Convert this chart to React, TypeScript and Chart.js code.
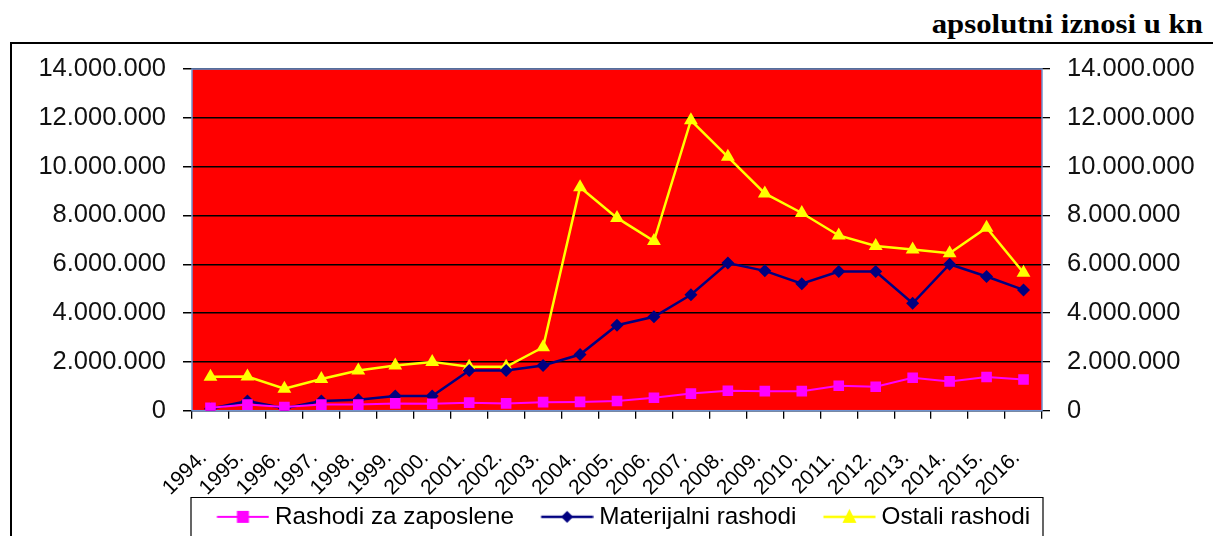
import React, { useEffect, useRef } from 'react';
import { Chart, registerables } from 'chart.js';

Chart.register(...registerables);

// ---------- data ----------
const years = [
  '1994.', '1995.', '1996.', '1997.', '1998.', '1999.', '2000.', '2001.',
  '2002.', '2003.', '2004.', '2005.', '2006.', '2007.', '2008.', '2009.',
  '2010.', '2011.', '2012.', '2013.', '2014.', '2015.', '2016.',
];

const rashodiZaZaposlene = [
  120000, 250000, 150000, 250000, 250000, 300000, 280000, 330000,
  300000, 350000, 360000, 400000, 530000, 700000, 820000, 800000,
  800000, 1020000, 980000, 1350000, 1200000, 1380000, 1280000,
];

const materijalniRashodi = [
  80000, 400000, 100000, 400000, 450000, 600000, 600000, 1650000,
  1650000, 1850000, 2300000, 3500000, 3850000, 4750000, 6050000, 5730000,
  5200000, 5700000, 5700000, 4400000, 6000000, 5500000, 4950000,
];

const ostaliRashodi = [
  1390000, 1400000, 900000, 1300000, 1650000, 1850000, 2000000, 1800000,
  1800000, 2600000, 9150000, 7900000, 6950000, 11900000, 10400000, 8900000,
  8100000, 7180000, 6750000, 6600000, 6450000, 7500000, 5650000,
];

const seriesNames = ['Rashodi za zaposlene', 'Materijalni rashodi', 'Ostali rashodi'];
const yTickValues = [0, 2000000, 4000000, 6000000, 8000000, 10000000, 12000000, 14000000];
const unitLabel = 'apsolutni iznosi u kn';

// ---------- helpers ----------
const fmt = (v: number) => String(Math.round(v)).replace(/\B(?=(\d{3})+(?!\d))/g, '.');

const FONT = "'Liberation Sans', Arial, sans-serif";

// legend symbol: image 80px wide, centred on a 67px legend box; line spans image px 27.5..79.5
function legendSymbol(color: string, marker: 'rect' | 'diamond' | 'triangle', lw: number) {
  const c = document.createElement('canvas');
  c.width = 80;
  c.height = 20;
  const g = c.getContext('2d')!;
  g.strokeStyle = color;
  g.lineWidth = lw;
  g.beginPath();
  g.moveTo(27.5, 10);
  g.lineTo(79.5, 10);
  g.stroke();
  g.fillStyle = color;
  g.beginPath();
  const cx = 53.5;
  if (marker === 'rect') {
    g.rect(cx - 6, 10 - 6, 12, 12);
  } else if (marker === 'diamond') {
    g.moveTo(cx, 4);
    g.lineTo(cx + 6, 10);
    g.lineTo(cx, 16);
    g.lineTo(cx - 6, 10);
    g.closePath();
  } else {
    g.moveTo(cx, 2);
    g.lineTo(cx + 7, 16);
    g.lineTo(cx - 7, 16);
    g.closePath();
  }
  g.fill();
  return c;
}

const plotDecor = {
  id: 'plotDecor',
  beforeDraw(chart: any) {
    const { ctx, chartArea: a } = chart;
    ctx.save();
    ctx.fillStyle = '#FF0000';
    ctx.fillRect(a.left, a.top, a.right - a.left, a.bottom - a.top);
    ctx.restore();
  },
  beforeDatasetsDraw(chart: any) {
    const { ctx, chartArea: a } = chart;
    ctx.save();
    ctx.strokeStyle = '#6f93cf';
    ctx.lineWidth = 1.5;
    ctx.strokeRect(a.left, a.top, a.right - a.left, a.bottom - a.top);
    ctx.restore();
  },
  afterDraw(chart: any) {
    const { ctx, chartArea: a, legend } = chart;
    ctx.save();
    ctx.strokeStyle = '#000';
    ctx.lineWidth = 1.2;
    const top = Math.round(legend.top - 2) + 0.5;
    ctx.beginPath();
    ctx.moveTo(a.left - 1, chart.height + 5);
    ctx.lineTo(a.left - 1, top);
    ctx.lineTo(a.right + 1, top);
    ctx.lineTo(a.right + 1, chart.height + 5);
    ctx.stroke();
    ctx.restore();
  },
};

export default function App() {
  const ref = useRef<HTMLCanvasElement | null>(null);

  useEffect(() => {
    if (!ref.current) return;
    const symbols = [
      legendSymbol('#FF00FF', 'rect', 2),
      legendSymbol('#000080', 'diamond', 2.5),
      legendSymbol('#FFFF00', 'triangle', 2.5),
    ];
    const chart = new Chart(ref.current, {
      type: 'line',
      data: {
        labels: years,
        datasets: [
          {
            label: seriesNames[0],
            data: rashodiZaZaposlene,
            borderColor: '#FF00FF',
            backgroundColor: '#FF00FF',
            borderWidth: 2,
            pointStyle: 'rect',
            pointRadius: 7.5,
            pointBorderWidth: 0,
            tension: 0,
          },
          {
            label: seriesNames[1],
            data: materijalniRashodi,
            borderColor: '#000080',
            backgroundColor: '#000080',
            borderWidth: 2.5,
            pointStyle: 'rectRot',
            pointRadius: 6.5,
            pointBorderWidth: 0,
            tension: 0,
          },
          {
            label: seriesNames[2],
            data: ostaliRashodi,
            borderColor: '#FFFF00',
            backgroundColor: '#FFFF00',
            borderWidth: 2.5,
            pointStyle: 'triangle',
            pointRadius: 8,
            pointBorderWidth: 0,
            tension: 0,
          },
        ],
      },
      options: {
        animation: false,
        responsive: false,
        maintainAspectRatio: false,
        layout: { padding: { top: 69, bottom: 1, left: 0, right: 0 } },
        plugins: {
          tooltip: { enabled: false },
          legend: {
            position: 'bottom',
            labels: {
              usePointStyle: true,
              pointStyleWidth: 67,
              padding: 6,
              color: '#000',
              font: { family: FONT, size: 24.3 },
              generateLabels: (ch: any) =>
                Chart.defaults.plugins.legend.labels
                  .generateLabels(ch)
                  .map((it: any, i: number) => ({ ...it, pointStyle: symbols[i], lineWidth: 0 })),
            },
          },
        },
        scales: {
          x: {
            type: 'category',
            offset: true,
            grid: {
              offset: true,
              drawOnChartArea: false,
              drawTicks: true,
              tickLength: 8,
              color: '#000',
              lineWidth: 1.3,
            },
            border: { display: false },
            ticks: {
              autoSkip: false,
              maxRotation: 45,
              minRotation: 45,
              labelOffset: -7,
              padding: 27,
              color: '#000',
              font: { family: FONT, size: 21 },
            },
            afterFit: (s: any) => {
              s.height = 88;
            },
          },
          y: {
            position: 'left',
            min: 0,
            max: 14000000,
            afterBuildTicks: (s: any) => {
              s.ticks = yTickValues.map((v) => ({ value: v }));
            },
            grid: {
              color: '#000',
              lineWidth: 1.5,
              tickLength: 9,
            },
            border: { display: false },
            ticks: {
              padding: 17,
              color: '#111',
              font: { family: FONT, size: 25.5 },
              callback: (v: any) => fmt(Number(v)),
            },
            afterFit: (s: any) => {
              s.width = 192;
            },
          },
          y2: {
            position: 'right',
            min: 0,
            max: 14000000,
            afterBuildTicks: (s: any) => {
              s.ticks = yTickValues.map((v) => ({ value: v }));
            },
            grid: {
              drawOnChartArea: false,
              color: '#000',
              lineWidth: 1.3,
              tickLength: 8,
            },
            border: { display: false },
            ticks: {
              padding: 17,
              color: '#111',
              font: { family: FONT, size: 25.5 },
              callback: (v: any) => fmt(Number(v)),
            },
            afterFit: (s: any) => {
              s.width = 184;
            },
          },
        },
      },
      plugins: [plotDecor],
    });
    return () => chart.destroy();
  }, []);

  return (
    <div
      style={{
        position: 'absolute',
        left: 0,
        top: 0,
        width: 1213,
        height: 536,
        overflow: 'hidden',
        background: '#fff',
      }}
    >
      <div
        style={{
          position: 'absolute',
          right: 10,
          top: 8,
          fontFamily: "'Liberation Serif', 'Times New Roman', serif",
          fontWeight: 'bold',
          fontSize: 27,
          lineHeight: '32px',
          color: '#000',
          whiteSpace: 'nowrap',
          transform: 'scaleX(1.14)',
          transformOrigin: 'right center',
        }}
      >
        {unitLabel}
      </div>
      <div
        style={{
          position: 'absolute',
          left: 10,
          top: 42,
          width: 1220,
          height: 520,
          border: '2px solid #000',
          boxSizing: 'border-box',
        }}
      />
      <canvas
        ref={ref}
        width={1226}
        height={540}
        style={{ position: 'absolute', left: 0, top: 0, width: 1226, height: 540 }}
      />
    </div>
  );
}
